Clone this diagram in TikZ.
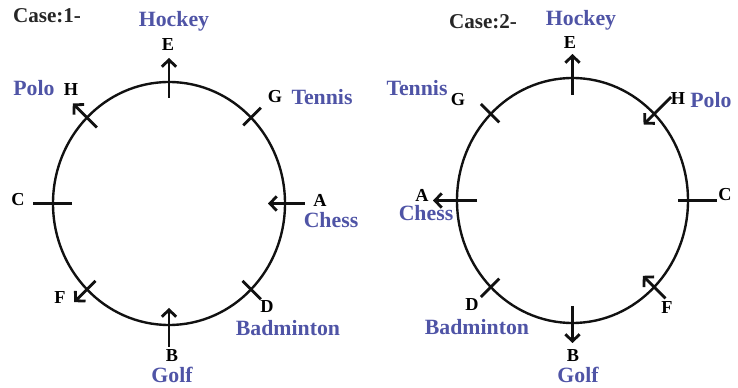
\documentclass[tikz,border=0pt]{standalone}
\usepackage{fontspec}
\setmainfont{Liberation Serif}
\usetikzlibrary{arrows.meta, calc}

\definecolor{sportblue}{HTML}{4F54A6}
\definecolor{rimcolor}{HTML}{111111}

\tikzset{
    rim/.style={draw=rimcolor, line width=1.7pt},
    spoke-none/.style={draw=rimcolor, line width=2pt},
    spoke-out/.style={spoke-none, -{Straight Barb[length=1.7mm, width=3.6mm]}},
    spoke-in/.style={spoke-none, {Straight Barb[length=1.7mm, width=3.6mm]}-},
    letter/.style={font=\fontsize{13}{14}\selectfont\bfseries, text=black, inner sep=0pt},
    sport/.style={font=\fontsize{15.5}{16}\selectfont\bfseries, text=sportblue, inner sep=0pt},
    casetitle/.style={font=\fontsize{15}{16}\selectfont\bfseries, text=black!85, inner sep=0pt},
}

\begin{document}
\begin{tikzpicture}[x=0.025cm, y=0.025cm]

\useasboundingbox (0,0) rectangle (738,388);

% ================================================================
%   picture measured in pixels of a 738 x 388 page, y upwards
%   case 1: rim centre (169,184.5), radii 116 / 121.5
%   case 2: rim centre (572.5,187.5), radii 115.5 / 122.5
%   each spoke: angle / letter / length inside / length outside / tip
% ================================================================

% ---------------------------------------------------------------- case 1
\begin{scope}[shift={(169,184.5)}]
    \def\rx{116}
    \def\ry{121.5}
    \draw[rim] (0,0) ellipse [x radius=\rx, y radius=\ry];
    \foreach \a/\k/\i/\o/\t in {90/E/16/24/out, 45/G/11/14/none,
        135/H/14/20/out, 180/C/19/20/none, 0/A/17/20/in,
        -45/D/12/14/none, -90/B/17/22/in, -135/F/12/18/out} {
        \coordinate (one\k-in)  at ({(\rx-\i)*cos(\a)}, {(\ry-\i)*sin(\a)});
        \coordinate (one\k-out) at ({(\rx+\o)*cos(\a)}, {(\ry+\o)*sin(\a)});
        \draw[spoke-\t] (one\k-in) -- (one\k-out);
    }
\end{scope}

\node[casetitle] (title1) at (47,372) {Case:1-};

\foreach \k/\x/\y in {E/168/343, H/71/298, G/275/291, C/18/188,
    A/320/188, F/60/90, D/267/81, B/172/32} {
    \node[letter] (oneL\k) at (\x,\y) {\k};
}

\foreach \n/\w/\x/\y in {hk/Hockey/174/367, pl/Polo/34/300,
    tn/Tennis/322/291, ch/Chess/331/168, bd/Badminton/288/60,
    gf/Golf/172/13} {
    \node[sport] (oneS\n) at (\x,\y) {\w};
}

% ---------------------------------------------------------------- case 2
\begin{scope}[shift={(572.5,187.5)}]
    \def\rx{115.5}
    \def\ry{122.5}
    \draw[rim] (0,0) ellipse [x radius=\rx, y radius=\ry];
    \foreach \a/\k/\i/\o/\t in {90/E/17/24/out, 135/G/12/14/none,
        45/H/15/24/in, 0/C/10/29/none, 180/A/20/24/out,
        -135/D/12/14/none, -90/B/17/20/out, -45/F/16/16/in} {
        \coordinate (two\k-in)  at ({(\rx-\i)*cos(\a)}, {(\ry-\i)*sin(\a)});
        \coordinate (two\k-out) at ({(\rx+\o)*cos(\a)}, {(\ry+\o)*sin(\a)});
        \draw[spoke-\t] (two\k-in) -- (two\k-out);
    }
\end{scope}

\node[casetitle] (title2) at (483,366) {Case:2-};

\foreach \k/\x/\y in {E/570/345, G/458/288, H/678/289, A/422/193,
    C/725/193, D/472/83, F/667/80, B/573/32} {
    \node[letter] (twoL\k) at (\x,\y) {\k};
}

\foreach \n/\w/\x/\y in {hk/Hockey/581/368, tn/Tennis/417/300,
    pl/Polo/711/288, ch/Chess/426/175, bd/Badminton/477/61,
    gf/Golf/578/13} {
    \node[sport] (twoS\n) at (\x,\y) {\w};
}

\end{tikzpicture}
\end{document}
